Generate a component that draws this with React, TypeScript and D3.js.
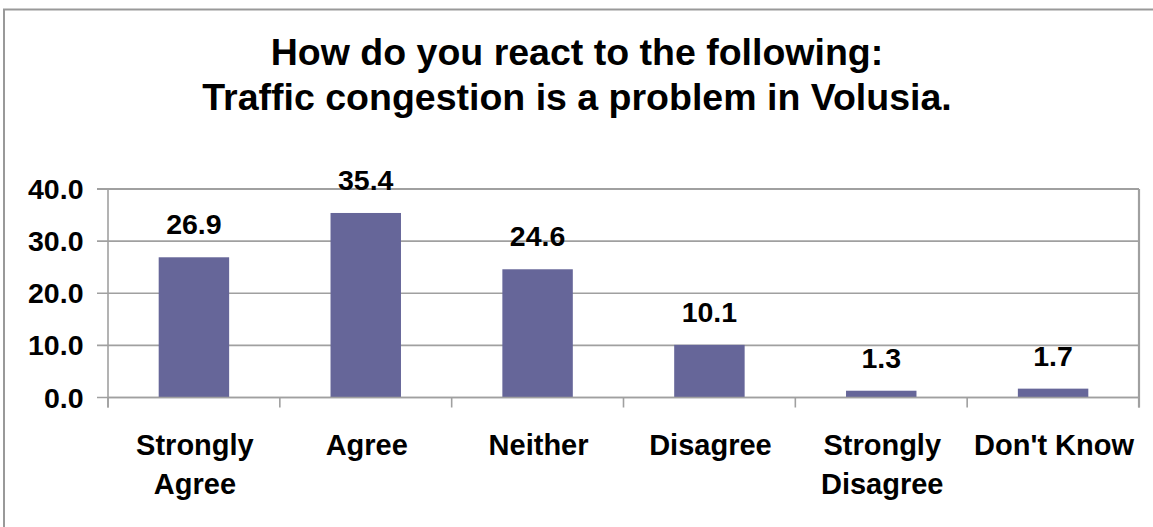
import React from "react";
import * as d3 from "d3";

const titleLines = ["How do you react to the following:", "Traffic congestion is a problem in Volusia."];
const categories = ["Strongly Agree", "Agree", "Neither", "Disagree", "Strongly Disagree", "Don't Know"];
const categoryLines = [["Strongly", "Agree"], ["Agree"], ["Neither"], ["Disagree"], ["Strongly", "Disagree"], ["Don't Know"]];
const values = [26.9, 35.4, 24.6, 10.1, 1.3, 1.7];
const yTicks = [0, 10, 20, 30, 40];

const W = 1153;
const H = 527;
const FONT = "'Liberation Sans', Arial, Helvetica, sans-serif";
const GRID = "#a0a0a0";
const BAR = "#666699";

export default function App() {
  const left = 108, right = 1139, top = 189, bottom = 397.5;
  const x = d3.scaleBand<string>().domain(categories).range([left, right]).paddingInner(0).paddingOuter(0);
  const y = d3.scaleLinear().domain([0, 40]).range([bottom, top]);
  const bw = x.bandwidth() * 0.41;
  const bounds = categories.map((c) => x(c) as number).concat([right]);

  return (
    <svg width={W} height={H} style={{ position: "absolute", left: 0, top: 0, background: "#fff" }} fontFamily={FONT}>
      <rect x={0} y={0} width={W} height={H} fill="#fff" />
      <rect x={4} y={9.5} width={W + 20} height={H + 20} fill="none" stroke="#999" strokeWidth={2} />
      {titleLines.map((t, i) => (
        <text key={t} x={577} y={65 + i * 45} textAnchor="middle" fontSize={37.5} fontWeight="bold" fill="#000">{t}</text>
      ))}
      {yTicks.map((t) => (
        <g key={t}>
          <line x1={left - 11} x2={right} y1={y(t)} y2={y(t)} stroke={GRID} strokeWidth={t === 40 ? 2.2 : 1.6} />
          <text x={83.5} y={y(t) + 10} textAnchor="end" fontSize={28.5} fontWeight="bold" fill="#000">{t.toFixed(1)}</text>
        </g>
      ))}
      <line x1={right} x2={right} y1={top} y2={bottom + 10} stroke={GRID} strokeWidth={2.2} />
      <line x1={left} x2={left} y1={top} y2={bottom + 10} stroke={GRID} strokeWidth={1.6} />
      {bounds.map((b, i) => (
        <line key={i} x1={b} x2={b} y1={bottom} y2={bottom + 10} stroke={GRID} strokeWidth={1.6} />
      ))}
      {categories.map((c, i) => {
        const cx = (x(c) as number) + x.bandwidth() / 2;
        return (
          <g key={c}>
            <rect x={cx - bw / 2} y={y(values[i])} width={bw} height={bottom - y(values[i])} fill={BAR} />
            <text x={cx} y={y(values[i]) - 23} textAnchor="middle" fontSize={28.5} fontWeight="bold" fill="#000">{values[i].toFixed(1)}</text>
            {categoryLines[i].map((l, j) => (
              <text key={j} x={cx + 1} y={455 + j * 39} textAnchor="middle" fontSize={29} fontWeight="bold" fill="#000">{l}</text>
            ))}
          </g>
        );
      })}
      <line x1={left} x2={right} y1={bottom} y2={bottom} stroke={GRID} strokeWidth={1.6} />
    </svg>
  );
}
